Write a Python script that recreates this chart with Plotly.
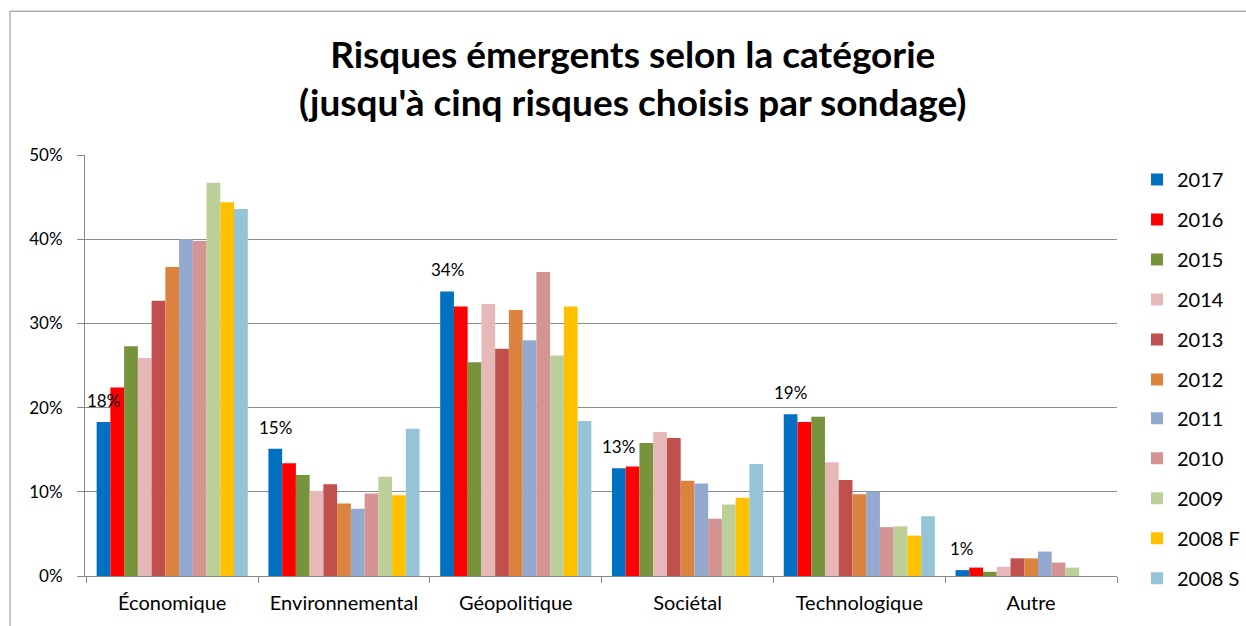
import plotly.graph_objects as go

categories = ["Économique", "Environnemental", "Géopolitique", "Sociétal", "Technologique", "Autre"]
series_names = ["2017", "2016", "2015", "2014", "2013", "2012", "2011", "2010", "2009", "2008 F", "2008 S"]

v2017 = [0.183, 0.151, 0.338, 0.128, 0.192, 0.007]
v2016 = [0.224, 0.134, 0.320, 0.130, 0.183, 0.010]
v2015 = [0.273, 0.120, 0.254, 0.158, 0.189, 0.005]
v2014 = [0.259, 0.101, 0.323, 0.171, 0.135, 0.011]
v2013 = [0.327, 0.109, 0.270, 0.164, 0.114, 0.021]
v2012 = [0.367, 0.086, 0.316, 0.113, 0.097, 0.021]
v2011 = [0.400, 0.080, 0.280, 0.110, 0.100, 0.029]
v2010 = [0.398, 0.098, 0.361, 0.068, 0.058, 0.016]
v2009 = [0.467, 0.118, 0.262, 0.085, 0.059, 0.010]
v2008F = [0.444, 0.096, 0.320, 0.093, 0.048, 0.0]
v2008S = [0.436, 0.175, 0.184, 0.133, 0.071, 0.0]
values = [v2017, v2016, v2015, v2014, v2013, v2012, v2011, v2010, v2009, v2008F, v2008S]

colors = ["#0070C0", "#FF0000", "#77933C", "#E6B9B8", "#C0504D", "#DC8340",
          "#94A9D0", "#D49494", "#BCCF98", "#FFC000", "#94C4D6"]

labels_2017 = ["18%", "15%", "34%", "13%", "19%", "1%"]

FONT = "Lato"

fig = go.Figure()
for i, (name, vals, col) in enumerate(zip(series_names, values, colors)):
    fig.add_trace(go.Bar(x=categories, y=vals, name=name, marker_color=col,
                         marker_line_width=0, legendgroup=name, hoverinfo="skip",
                         legend="legend" if i < 6 else "legend2"))

# figure is a bit wider than the 1246px window (page overflow hidden) so the legend never pushes margins
W, H = 1280, 626
L, T = 85, 155
R = W - 1117
B = H - 578
pw, ph = W - L - R, H - T - B

def px_x(p):
    return (p - L) / pw

def px_y(p):
    return (H - B - p) / ph

n_series = len(series_names)
group_frac = 1 - 0.12
first_offset = -group_frac / 2 + group_frac / n_series / 2

annotations = [dict(text="<b>Risques émergents selon la catégorie<br>(jusqu'à cinq risques choisis par sondage)</b>",
                    xref="paper", yref="paper", x=px_x(632), y=px_y(77), xanchor="center", yanchor="middle",
                    showarrow=False, font=dict(family=FONT, size=37, color="#000000"))]
for i, (lab, v) in enumerate(zip(labels_2017, v2017)):
    annotations.append(dict(text=lab, x=i + first_offset, y=v, xref="x", yref="y",
                            xanchor="center", yanchor="bottom", yshift=9, showarrow=False,
                            font=dict(family=FONT, size=17, color="#000000")))

leg_common = dict(xanchor="left", yanchor="top", font=dict(family=FONT, size=20), tracegroupgap=11,
                  bgcolor="rgba(0,0,0,0)", itemclick=False, itemdoubleclick=False)

fig.update_layout(
    width=W, height=H,
    margin=dict(l=L, r=R, t=T, b=B, pad=0),
    paper_bgcolor="white", plot_bgcolor="white",
    barmode="group", bargap=0.12, bargroupgap=0,
    font=dict(family=FONT, size=17, color="#000000"),
    showlegend=True,
    legend=dict(x=px_x(1137), y=px_y(160), **leg_common),
    legend2=dict(x=px_x(1137), y=px_y(400), **leg_common),
    xaxis=dict(type="category", showgrid=False, showline=True, linecolor="#888888", linewidth=1,
               ticks="outside", tickson="boundaries", ticklen=6, tickcolor="#888888",
               tickfont=dict(family=FONT, size=20), fixedrange=True, ticklabelstandoff=9),
    yaxis=dict(range=[0, 0.5], dtick=0.1, tickformat=".0%", showgrid=True, gridcolor="#8C8C8C",
               gridwidth=1, showline=True, linecolor="#888888", linewidth=1, ticks="outside",
               ticklen=7, tickcolor="#888888", tickfont=dict(family=FONT, size=17),
               zeroline=False, fixedrange=True, ticklabelstandoff=11),
    annotations=annotations,
    shapes=[dict(type="rect", xref="paper", yref="paper", x0=px_x(10), x1=px_x(1300),
                 y0=px_y(660), y1=px_y(10.5), line=dict(color="#8C8C8C", width=1), fillcolor="rgba(0,0,0,0)",
                 layer="below")],
)

fig.write_html("out.html", config={"displayModeBar": False, "staticPlot": True},
               post_script="document.body.style.margin='0';document.body.style.overflow='hidden';")
